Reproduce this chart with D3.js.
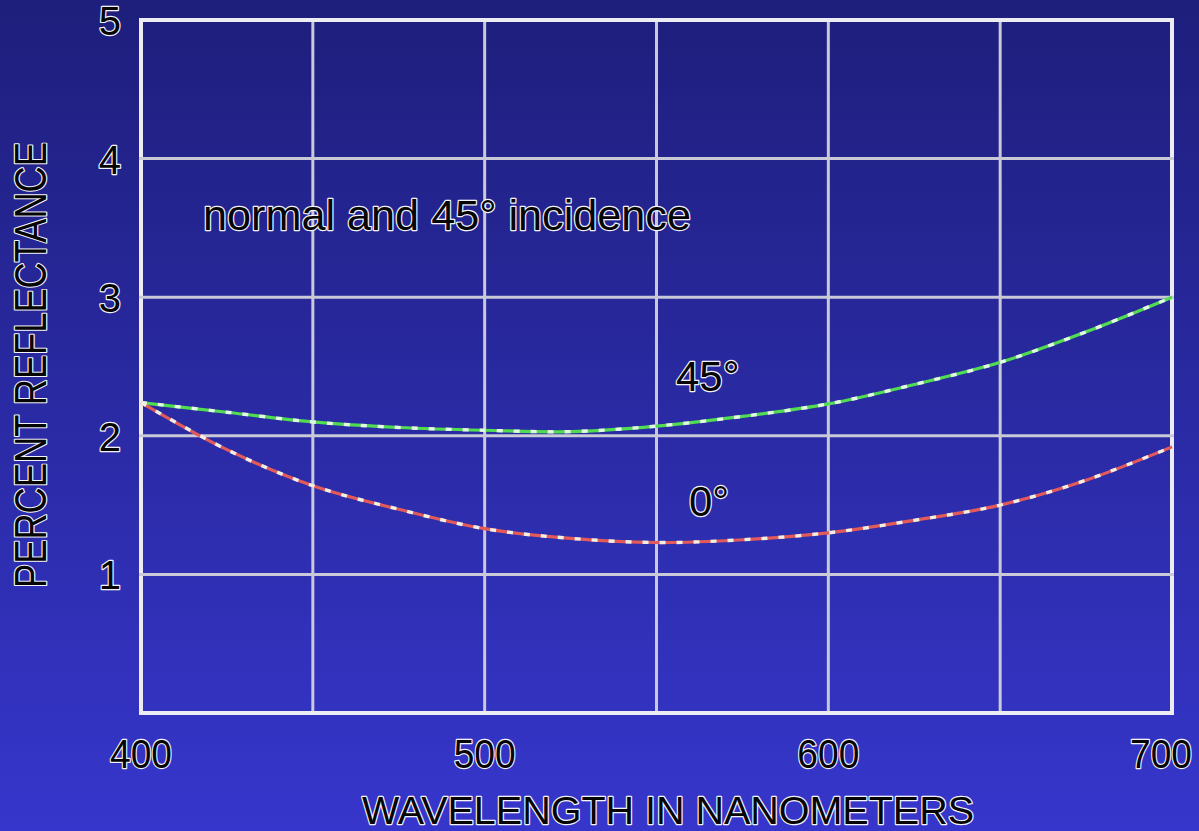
<!DOCTYPE html>
<html><head><meta charset="utf-8">
<script src="https://cdn.jsdelivr.net/npm/d3@7"></script>
<style>html,body{margin:0;padding:0;overflow:hidden;background:#2a2aa8}</style>
</head><body>
<script>
const wavelengths = [400,425,450,475,500,525,550,575,600,625,650,675,700];
const refl45 = [2.24,2.17,2.10,2.06,2.04,2.03,2.07,2.14,2.23,2.37,2.53,2.75,3.00];
const refl0  = [2.24,1.90,1.64,1.47,1.33,1.26,1.23,1.25,1.30,1.39,1.50,1.68,1.92];
const xTickLabels = [400,500,600,700];
const yTickLabels = [1,2,3,4,5];
const xGrid = [400,450,500,550,600,650,700];
const yGrid = [0,1,2,3,4,5];
const title = "normal and 45\u00B0 incidence";
const label45 = "45\u00B0", label0 = "0\u00B0";
const xTitle = "WAVELENGTH IN NANOMETERS", yTitle = "PERCENT REFLECTANCE";

const W = 1199, H = 831;
const svg = d3.select("body").append("svg").attr("width", W).attr("height", H);
const defs = svg.append("defs");
const g = defs.append("linearGradient").attr("id","bg").attr("x1",0).attr("y1",0).attr("x2",0).attr("y2",1);
g.append("stop").attr("offset","0%").attr("stop-color","#1e1e7c");
g.append("stop").attr("offset","100%").attr("stop-color","#3636cc");
svg.append("rect").attr("width",W).attr("height",H).attr("fill","url(#bg)");

const x = d3.scaleLinear().domain([400,700]).range([141,1172]);
const y = d3.scaleLinear().domain([0,5]).range([713,20]);

const font = "'Liberation Sans', Arial, sans-serif";
function halo(sel){
  return sel.attr("font-family", font).attr("fill","#050505")
    .attr("stroke","#f2f2f8").attr("stroke-width",2.4).attr("paint-order","stroke")
    .attr("stroke-linejoin","round");
}

// grid
svg.append("g").selectAll("line.v").data(xGrid).join("line")
  .attr("x1",d=>x(d)).attr("x2",d=>x(d)).attr("y1",y(5)).attr("y2",y(0))
  .attr("stroke",(d,i)=> (i===0||i===xGrid.length-1)?"#ececf2":"#c9c9d8")
  .attr("stroke-width",(d,i)=> (i===0||i===xGrid.length-1)?4:3);
svg.append("g").selectAll("line.h").data(yGrid).join("line")
  .attr("y1",d=>y(d)).attr("y2",d=>y(d)).attr("x1",x(400)-2).attr("x2",x(700)+2)
  .attr("stroke",(d,i)=> (i===0||i===yGrid.length-1)?"#ececf2":"#c9c9d8")
  .attr("stroke-width",(d,i)=> (i===0||i===yGrid.length-1)?4:3);

// curves
const line = d3.line().x(d=>x(d[0])).y(d=>y(d[1])).curve(d3.curveCatmullRom);
const d45 = wavelengths.map((w,i)=>[w,refl45[i]]);
const d0 = wavelengths.map((w,i)=>[w,refl0[i]]);
[[d45,"#52dc52"],[d0,"#e25a5a"]].forEach(([data,col])=>{
  svg.append("path").attr("d",line(data)).attr("fill","none").attr("stroke",col).attr("stroke-width",3.2);
  svg.append("path").attr("d",line(data)).attr("fill","none").attr("stroke","#f4fff4")
    .attr("stroke-width",3.4).attr("stroke-dasharray","6,11").attr("opacity",0.9);
});

// tick labels
halo(svg.append("g").selectAll("text").data(xTickLabels).join("text")
  .attr("x",d=>Math.min(x(d), W-38)).attr("y",768).attr("text-anchor","middle")
  .attr("font-size",40).text(d=>d))
  .attr("textLength",62).attr("lengthAdjust","spacingAndGlyphs");
halo(svg.append("g").selectAll("text").data(yTickLabels).join("text")
  .attr("x",121).attr("y",d=>y(d)+15).attr("text-anchor","end")
  .attr("font-size",40).text(d=>d));

// annotations
halo(svg.append("text").attr("x",203).attr("y",230).attr("font-size",42).text(title))
  .attr("textLength",488).attr("lengthAdjust","spacingAndGlyphs");
halo(svg.append("text").attr("x",676).attr("y",391).attr("font-size",42).text(label45));
halo(svg.append("text").attr("x",689).attr("y",516).attr("font-size",42).text(label0));

// axis titles
halo(svg.append("text").attr("x",668).attr("y",824).attr("text-anchor","middle")
  .attr("font-size",39).text(xTitle))
  .attr("textLength",612).attr("lengthAdjust","spacingAndGlyphs");
halo(svg.append("text").attr("transform","translate(46,365) rotate(-90)")
  .attr("text-anchor","middle").attr("font-size",44).text(yTitle))
  .attr("textLength",446).attr("lengthAdjust","spacingAndGlyphs");
</script>
</body></html>
